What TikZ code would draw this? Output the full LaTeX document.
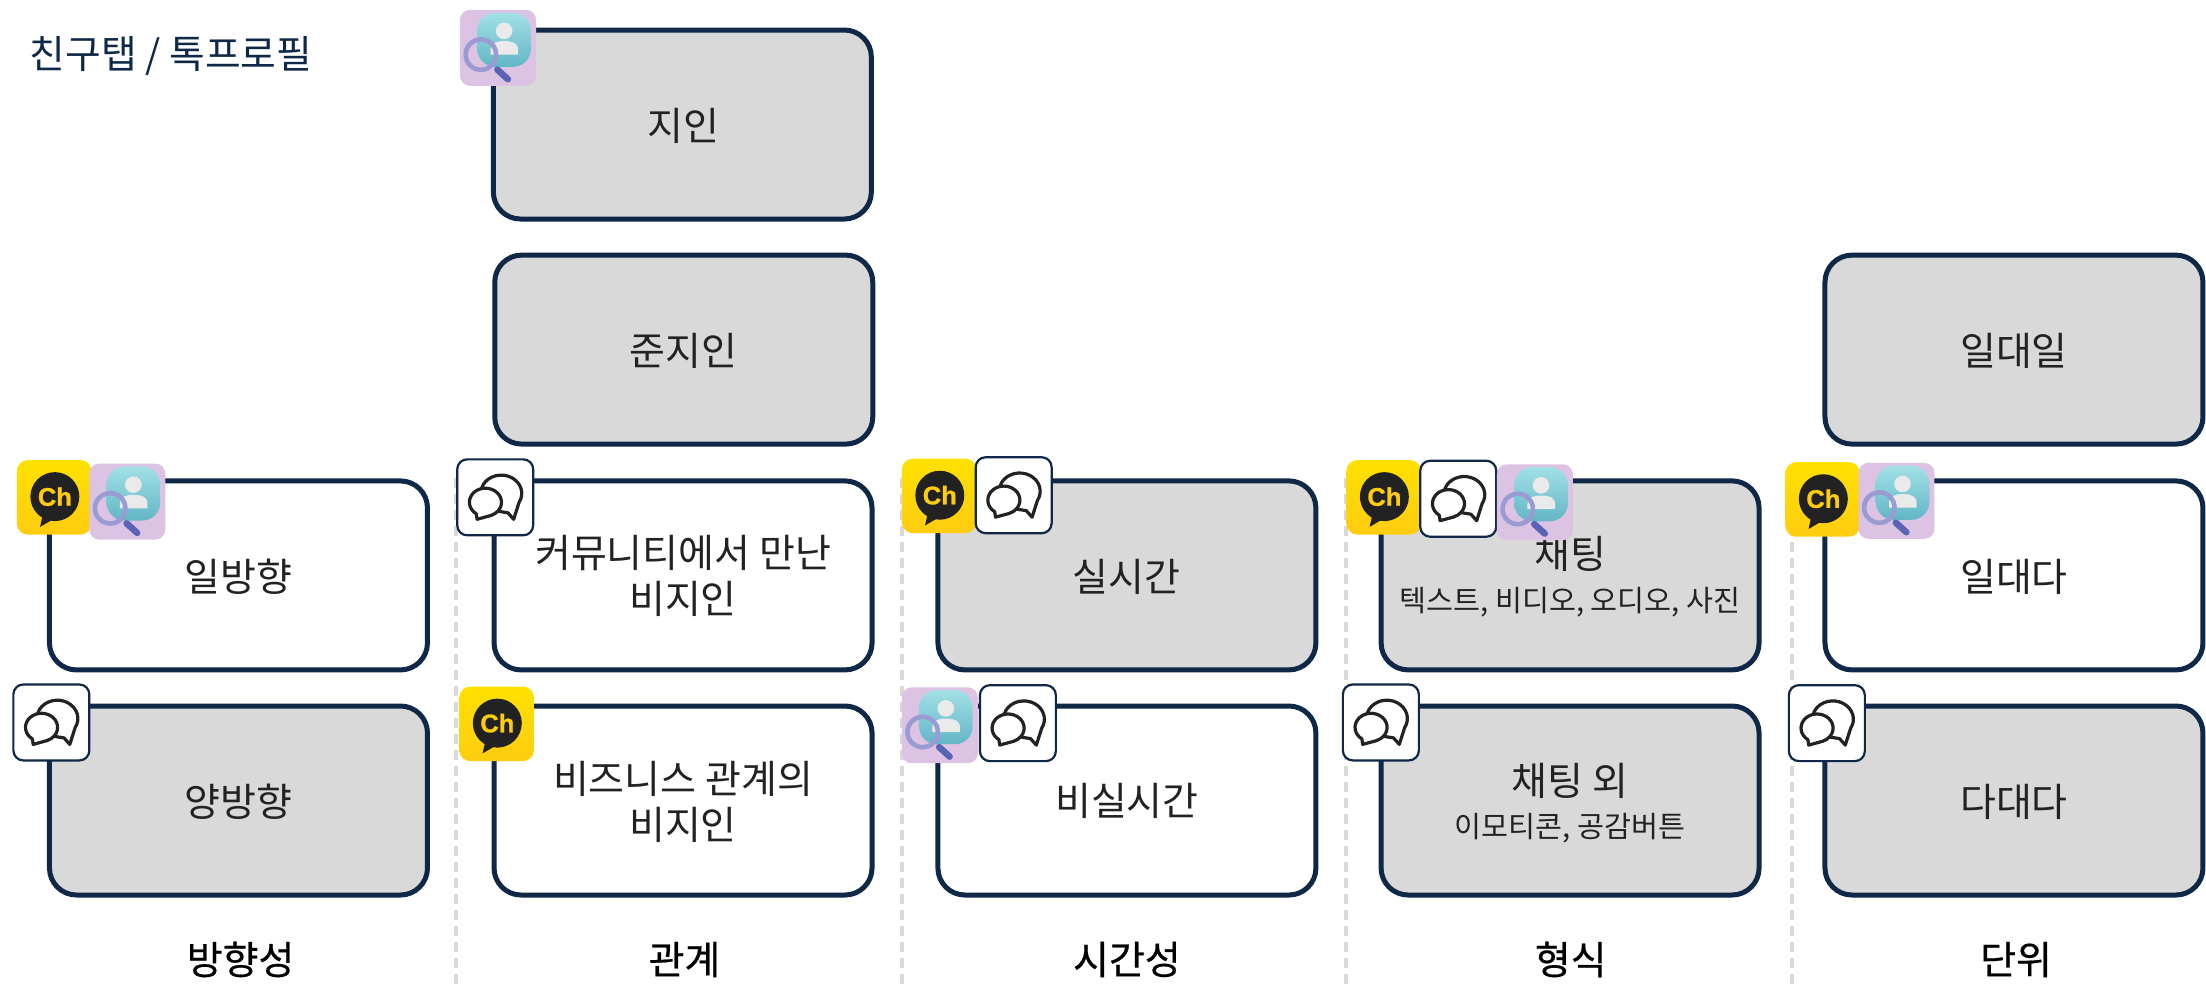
\documentclass[tikz,border=0pt]{standalone}
\usepackage{fontspec}
\setmainfont{Noto Sans CJK KR}
\newfontfamily\kmed[FakeBold=0.5]{Noto Sans CJK KR}
\newfontfamily\chfont[FakeBold=1]{Liberation Sans}
\definecolor{navy}{HTML}{0F2847}
\definecolor{boxgray}{HTML}{D9D9D9}
\definecolor{ink}{HTML}{222222}
\definecolor{lilac}{HTML}{DCC2E3}
\definecolor{chtop}{HTML}{FFE100}
\definecolor{chbot}{HTML}{FFCC10}
\definecolor{tealtop}{HTML}{A2E0E6}
\definecolor{tealbot}{HTML}{62B6C6}
\definecolor{ringc}{HTML}{9A9BD2}
\definecolor{handlec}{HTML}{5A63B5}
\definecolor{persong}{HTML}{EAEAEA}
\tikzset{
  x=1.4069pt,y=-1.4069pt,
  cat/.style={draw=navy,line width=5pt,rounded corners=27pt,minimum width=378pt,minimum height=189pt,inner sep=0pt},
  white box/.style={cat,fill=white},
  gray box/.style={cat,fill=boxgray},
  big text/.style={inner sep=0pt,text=ink,align=center,font=\fontsize{39}{46.4}\selectfont},
  small text/.style={inner sep=0pt,text=ink,font=\fontsize{29.3}{34}\selectfont},
  axis label/.style={text=black,font=\kmed\fontsize{39}{46}\selectfont},
  divider/.style={draw=boxgray,line width=4pt,dash pattern=on 10pt off 6pt},
  chicon/.pic={
    \path[top color=chtop,bottom color=chbot,rounded corners=11pt] (-26.5,-26.5) rectangle (26.5,26.5);
    \fill[ink] (0.5,-0.5) circle (17.4);
    \fill[ink] (-8,12) -- (-10,21) -- (2,14) -- cycle;
    \node[inner sep=0pt,text=chbot] at (0.5,-0.5) {\chfont\bfseries\fontsize{25.5}{25}\selectfont Ch};
  },
  chaticon/.pic={
    \draw[navy,fill=white,line width=2.2pt,rounded corners=10pt] (-27,-27) rectangle (27,27);
    \draw[ink,fill=white,line width=3.2pt,line join=round] (16.9,3.7) arc[start angle=30,end angle=-250,x radius=14.6,y radius=13] -- (9,11) -- (13.1,15.6) -- cycle;
    \draw[ink,fill=white,line width=3.2pt,line join=round] (-13.5,11.7) arc[start angle=125,end angle=430,x radius=11.4,y radius=10] -- (-12.9,15.6) -- cycle;
  },
  searchicon/.pic={
    \fill[lilac,rounded corners=10pt] (-27,-27) rectangle (27,27);
    \path[top color=tealtop,bottom color=tealbot,rounded corners=18pt] (-14.8,-25) rectangle (23.4,13.5);
    \fill[persong] (4.3,-12) circle (5.9);
    \fill[persong] (-5.3,4.8) -- (-5.3,1.5) .. controls (-5.3,-3.5) and (-1,-4.8) .. (4.5,-4.8) .. controls (10,-4.8) and (14.3,-3.5) .. (14.3,1.5) -- (14.3,4.8) -- cycle;
    \draw[ringc,line width=4.6pt] (-12.2,4.8) circle (10.8);
    \draw[handlec,line width=6.5pt,line cap=round] (-0.5,15.5) -- (7,22.3);
  },
}
\begin{document}
\begin{tikzpicture}
\useasboundingbox[fill=white] (0,0) rectangle (1568,699.4);
\foreach \n/\xx in {1/324,2/641,3/957,4/1274}{
  \coordinate (dt\n) at (\xx,340);
  \coordinate (db\n) at (\xx,699.4);
  \draw[divider] (dt\n) -- (db\n);
}
\node[anchor=west,inner sep=0pt,text=navy,font=\fontsize{38.8}{44}\selectfont] (title) at (21,39.5) {친구탭 / 톡프로필};
% boxes
\node[gray box] (jiin) at (485,88.5) {};
\node[gray box] (junjiin) at (486,248.5) {};
\node[gray box] (oneone) at (1431.5,248.5) {};
\node[white box] (oneway) at (169.5,409) {};
\node[gray box] (twoway) at (169.5,569) {};
\node[white box] (comm) at (485.5,409) {};
\node[white box] (biz) at (485.5,569) {};
\node[gray box] (real) at (801,409) {};
\node[white box] (nonreal) at (801,569) {};
\node[gray box] (chat) at (1116,409) {};
\node[gray box] (nonchat) at (1116,569) {};
\node[white box] (onemany) at (1431.5,409) {};
\node[gray box] (manymany) at (1431.5,569) {};
% texts
\node[big text] (t1) at (485.5,89.5) {지인};
\node[big text] (t2) at (486,249.5) {준지인};
\node[big text] (t3) at (1431.5,249.5) {일대일};
\node[big text] (t4) at (169.5,410) {일방향};
\node[big text] (t5) at (169.5,570) {양방향};
\node[big text] (t6) at (485.5,409.5) {커뮤니티에서 만난\\비지인};
\node[big text] (t7) at (485.5,570) {비즈니스 관계의\\비지인};
\node[big text] (t8) at (800.5,410) {실시간};
\node[big text] (t9) at (801,569) {비실시간};
\node[big text] (t10) at (1116,394) {채팅};
\node[small text] (t11) at (1116,428) {텍스트, 비디오, 오디오, 사진};
\node[big text] (t12) at (1116,555) {채팅 외};
\node[small text] (t13) at (1116,588.5) {이모티콘, 공감버튼};
\node[big text] (t14) at (1431.5,410) {일대다};
\node[big text] (t15) at (1431.5,570) {다대다};
% axis labels
\node[axis label] (l1) at (171,682) {방향성};
\node[axis label] (l2) at (486.5,682) {관계};
\node[axis label] (l3) at (801,682) {시간성};
\node[axis label] (l4) at (1116.5,682) {형식};
\node[axis label] (l5) at (1433,682) {단위};
% icons
\pic at (38.5,353.5) {chicon};
\pic at (90.5,356.5) {searchicon};
\pic at (36.5,513.5) {chaticon};
\pic at (354,34) {searchicon};
\pic at (352,353.5) {chaticon};
\pic at (353,514.5) {chicon};
\pic at (667.5,352.5) {chicon};
\pic at (720.5,352) {chaticon};
\pic at (668,515.5) {searchicon};
\pic at (723.5,514) {chaticon};
\pic at (983.5,353.5) {chicon};
\pic at (1036.5,354.5) {chaticon};
\pic at (1091,357) {searchicon};
\pic at (981.5,513.5) {chaticon};
\pic at (1295.5,355) {chicon};
\pic at (1348,356) {searchicon};
\pic at (1298.5,514) {chaticon};
\end{tikzpicture}
\end{document}
